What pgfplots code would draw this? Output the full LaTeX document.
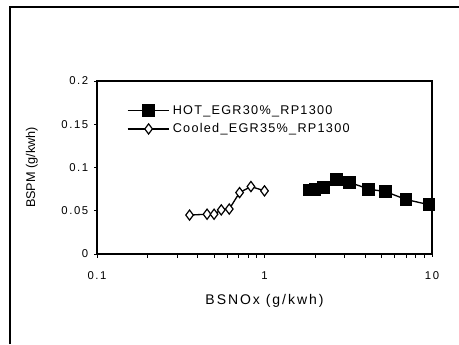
\documentclass[border=0pt]{standalone}
\usepackage{pgfplots}
\pgfplotsset{compat=1.18}
\usepackage{fontspec}
\setmainfont{Liberation Sans}
\newfontfamily\wide[LetterSpace=14]{Liberation Sans}
\newfontfamily\wideb[LetterSpace=10]{Liberation Sans}
\begin{document}
\begin{tikzpicture}
\path[use as bounding box] (0,0) rectangle (344.25pt,258pt);
\draw[line width=0.8pt] (7.5pt,0) -- (7.5pt,252.75pt) -- (344.25pt,252.75pt);
\begin{axis}[
  at={(72.75pt,67.5pt)}, anchor=south west,
  scale only axis, width=251.25pt, height=129.75pt,
  xmode=log, xmin=0.1, xmax=10,
  ymin=0, ymax=0.2,
  ytick={0,0.05,0.1,0.15,0.2},
  yticklabels={0,0.05,0.1,0.15,0.2},
  xtick={0.1,1,10}, xticklabels={0.1,1,10},
  minor xtick={},
  log ticks with fixed point,
  tick align=outside, tick pos=left,
  major tick length=2pt,
  axis line style={line width=0.8pt},
  tick style={line width=0.6pt, black},
  /pgf/number format/assume math mode=true,
  tick label style={font=\wide\fontsize{8.5}{9}\selectfont},
  yticklabel style={xshift=-1pt},
  xticklabel style={yshift=-8pt},
  xlabel={BSNOx (g/kwh)}, ylabel={BSPM (g/kwh)},
  xlabel style={font=\wide\fontsize{10.5}{11}\selectfont, yshift=-4pt},
  ylabel style={font=\fontsize{9.5}{10}\selectfont, yshift=11pt},
  legend style={draw=none, fill=none, at={(0.085,0.885)}, anchor=north west,
    font=\wideb\fontsize{9.5}{12}\selectfont, row sep=1.5pt, inner sep=1pt},
  legend image code/.code={
    \draw[mark repeat=2,mark phase=2,#1] plot coordinates {(0cm,0cm) (0.55cm,0cm) (1.1cm,0cm)};},
  legend cell align=left,
]
\addplot[black, line width=1pt, mark=square*, mark size=4.3pt, mark options={fill=black}]
coordinates {(1.85,0.074) (2.0,0.075) (2.25,0.077) (2.7,0.086) (3.2,0.083) (4.2,0.075) (5.3,0.072) (7.0,0.063) (9.6,0.057)};
\addlegendentry{HOT\_EGR30\%\_RP1300}
\addplot[black, line width=1pt, mark=diamond*, mark size=3.8pt, mark options={fill=white, line width=0.9pt}]
coordinates {(0.357,0.045) (0.454,0.046) (0.50,0.046) (0.552,0.051) (0.616,0.052) (0.71,0.071) (0.83,0.078) (1.0,0.073)};
\addlegendentry{Cooled\_EGR35\%\_RP1300}
\end{axis}
\end{tikzpicture}
\end{document}
